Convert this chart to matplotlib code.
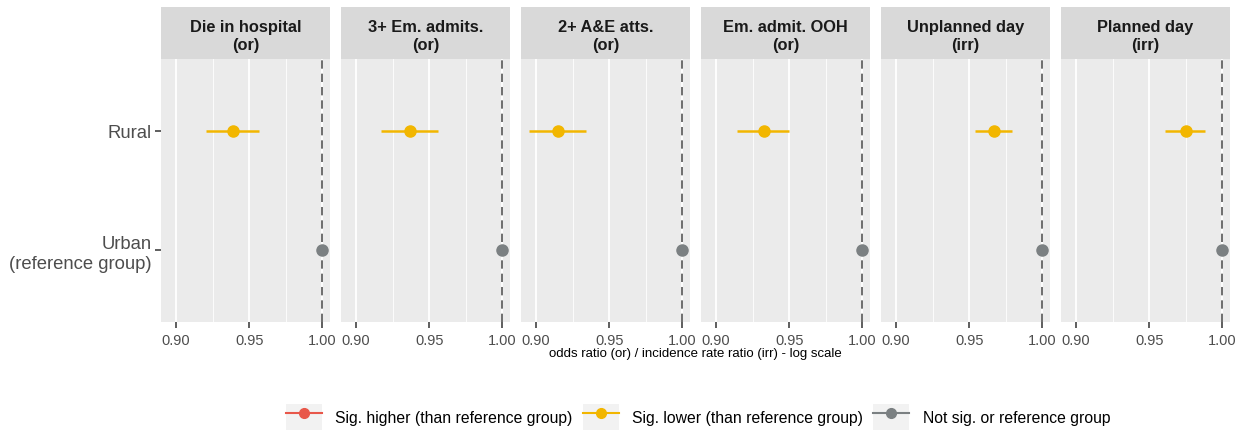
import matplotlib
matplotlib.use("Agg")
import matplotlib.pyplot as plt
from matplotlib.lines import Line2D
from matplotlib.patches import Patch
from matplotlib.legend_handler import HandlerTuple

plt.rcParams['font.family'] = ['Liberation Sans', 'DejaVu Sans']

# ---- data ----
measures = ["Die in hospital\n(or)", "3+ Em. admits.\n(or)", "2+ A&E atts.\n(or)",
            "Em. admit. OOH\n(or)", "Unplanned day\n(irr)", "Planned day\n(irr)"]
groups = ["Urban\n(reference group)", "Rural"]
rural_est = [0.939, 0.937, 0.915, 0.933, 0.967, 0.975]
rural_lo = [0.9205, 0.917, 0.895, 0.9146, 0.954, 0.9605]
rural_hi = [0.957, 0.956, 0.934, 0.950, 0.979, 0.988]
urban_est = [1.0, 1.0, 1.0, 1.0, 1.0, 1.0]
rural_sig = ["lower"] * 6
urban_sig = ["ns"] * 6
xticks = [0.90, 0.95, 1.00]
xtick_labels = ["0.90", "0.95", "1.00"]
minor_ticks = [0.925, 0.975]
legend_labels = ["Sig. higher (than reference group)",
                 "Sig. lower (than reference group)",
                 "Not sig. or reference group"]

colors = {"higher": "#E8574A", "lower": "#F2B600", "ns": "#7B8082"}

W, H = 1247, 435
fig = plt.figure(figsize=(W / 100, H / 100), dpi=100)

left0, pw, gap = 161, 169, 11
strip_top, strip_bot, panel_bot = 8, 60, 323

for i, m in enumerate(measures):
    x0 = left0 + i * (pw + gap)
    ax = fig.add_axes([x0 / W, 1 - panel_bot / H, pw / W, (panel_bot - strip_bot) / H])
    ax.set_facecolor("#EBEBEB")
    for s in ax.spines.values():
        s.set_visible(False)
    ax.set_xlim(0.8897, 1.0053)
    ax.set_ylim(0.4, 2.6)
    ax.set_xticks(xticks)
    ax.set_xticklabels(xtick_labels)
    ax.set_xticks(minor_ticks, minor=True)
    ax.grid(True, which="major", axis="x", color="white", lw=1.3)
    ax.grid(True, which="minor", axis="x", color="white", lw=0.6)
    ax.set_axisbelow(True)
    ax.tick_params(axis="x", which="major", length=4, width=1.1, color="#333333",
                   labelsize=10.5, labelcolor="#4D4D4D", pad=4)
    ax.tick_params(axis="x", which="minor", length=0)
    ax.set_yticks([1, 2])
    if i == 0:
        ax.set_yticklabels(groups, fontsize=13.3, color="#4D4D4D")
        for t in ax.get_yticklabels():
            t.set_multialignment("right")
        ax.tick_params(axis="y", length=4, width=1.1, color="#333333", pad=3)
    else:
        ax.set_yticklabels([])
        ax.tick_params(axis="y", length=0)

    ax.axvline(1.0, color="#555555", lw=1.2, ls=(0, (5, 3)), zorder=2)

    # Rural
    c = colors[rural_sig[i]]
    ax.hlines(2, rural_lo[i], rural_hi[i], color=c, lw=1.8, zorder=3)
    ax.plot(rural_est[i], 2, "o", color=c, ms=8, zorder=4)
    # Urban
    c = colors[urban_sig[i]]
    ax.plot(urban_est[i], 1, "o", color=c, ms=8, zorder=4, clip_on=False)

    # strip
    sax = fig.add_axes([x0 / W, 1 - strip_bot / H, pw / W, (strip_bot - strip_top) / H])
    sax.set_facecolor("#D9D9D9")
    for s in sax.spines.values():
        s.set_visible(False)
    sax.set_xticks([])
    sax.set_yticks([])
    sax.text(0.5, 0.45, m, ha="center", va="center", fontsize=11.8, fontweight="bold",
             color="#1A1A1A", transform=sax.transAxes, linespacing=1.3)

fig.text((left0 + (6 * pw + 5 * gap) / 2) / W, 1 - 354 / H,
         "odds ratio (or) / incidence rate ratio (irr) - log scale",
         ha="center", va="center", fontsize=9.5, color="black")

handles = []
for key in ["higher", "lower", "ns"]:
    handles.append((Patch(facecolor="#F2F2F2", edgecolor="none"),
                    Line2D([], [], color=colors[key], marker="o", ms=7, lw=1.5)))
fig.legend(handles, legend_labels, loc="center", ncol=3,
           bbox_to_anchor=(698 / W, 1 - 418 / H), frameon=False, fontsize=11.3,
           handler_map={tuple: HandlerTuple(ndivide=1, pad=0)},
           handlelength=2.3, handleheight=2.1, handletextpad=0.85, columnspacing=0.65)

fig.savefig("out.png", dpi=100)
